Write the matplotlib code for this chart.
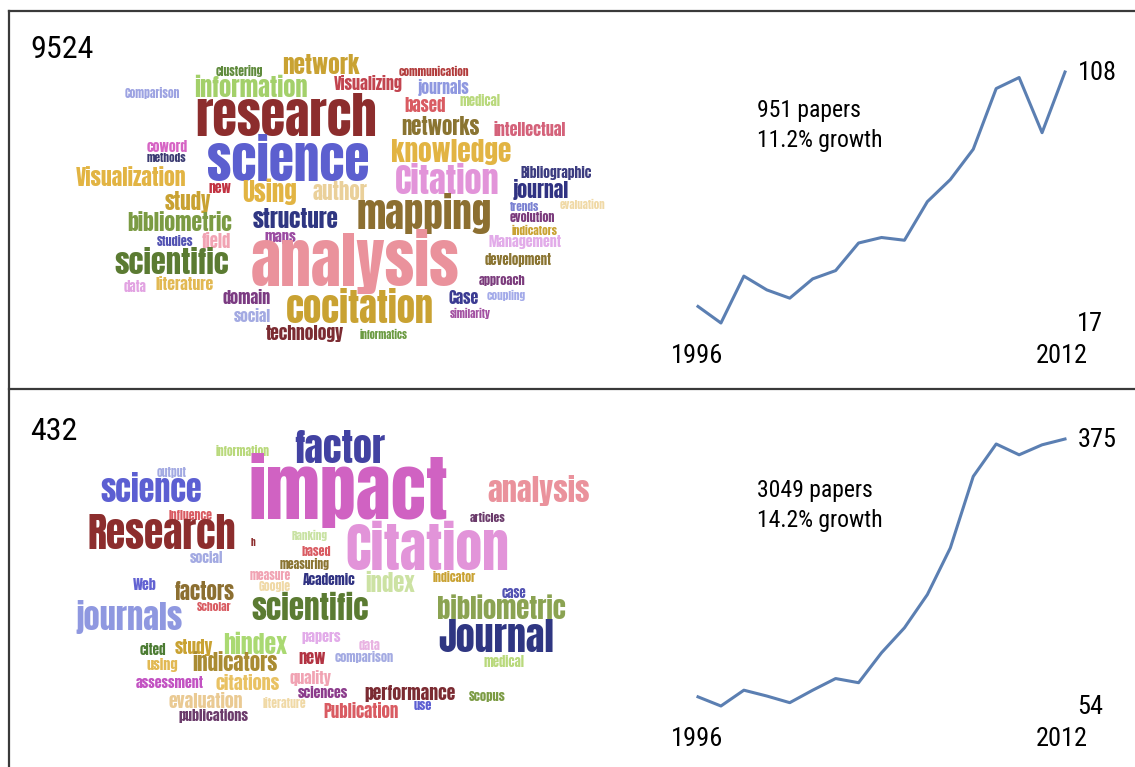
import matplotlib
matplotlib.use("Agg")
import matplotlib.pyplot as plt
from matplotlib import font_manager

# ---- data ----
years = list(range(1996, 2013))
papers_top = [23, 17, 34, 29, 26, 33, 36, 46, 48, 47, 61, 69, 80, 102, 106, 86, 108]
papers_bot = [65, 54, 73, 66, 58, 73, 87, 82, 118, 148, 188, 244, 330, 369, 356, 368, 375]
count_top = "9524"
count_bot = "432"
note_top = ["951 papers", "11.2% growth"]
note_bot = ["3049 papers", "14.2% growth"]

words_top = ["clustering", "network", "Comparison", "information", "Visualizing",
             "communication", "journals", "based", "medical", "research", "networks",
             "intellectual", "coword", "methods", "science", "knowledge",
             "Visualization", "new", "Using", "author", "Citation", "Bibliographic",
             "journal", "study", "mapping", "evaluation", "trends", "bibliometric",
             "structure", "evolution", "indicators", "maps", "Studies", "field",
             "Management", "scientific", "analysis", "development", "data",
             "literature", "approach", "domain", "cocitation", "Case", "coupling",
             "social", "similarity", "technology", "informatics"]

words_bot = ["information", "factor", "output", "impact", "analysis", "science",
             "Influence", "articles", "Research", "h", "Ranking", "Citation", "based",
             "social", "measuring", "measure", "Academic", "Google", "index",
             "indicator", "Web", "factors", "case", "Scholar", "scientific",
             "journals", "bibliometric", "Journal", "papers", "data", "hindex",
             "study", "cited", "comparison", "medical", "new", "using", "indicators",
             "quality", "assessment", "citations", "sciences", "performance",
             "Scopus", "evaluation", "literature", "Publication", "use",
             "publications"]

# ---- layout of the clouds: (x_left, x_right, y_center, colour) in pixels ----
layout_top = [
    (213, 265, 71, "#5f8a3c"), (278, 363, 66, "#c9a232"), (122, 183, 93, "#9da3e2"),
    (188, 313, 88, "#a3d06a"), (330, 407, 84, "#c2444f"), (395, 473, 72, "#b23c3c"),
    (415, 472, 88, "#8f98e0"), (403, 448, 105, "#d95b62"), (458, 503, 101, "#b9d97c"),
    (187, 386, 118, "#8c2d2d"), (397, 483, 127, "#8a7431"), (490, 570, 130, "#d4627a"),
    (145, 190, 147, "#d664c4"), (145, 188, 158, "#3b3b72"), (199, 378, 162, "#5c5fcf"),
    (385, 517, 152, "#e2b443"), (70, 192, 178, "#e2b443"), (207, 232, 188, "#c23342"),
    (240, 300, 192, "#e2b443"), (310, 370, 192, "#ead09a"), (389, 505, 182, "#e294d9"),
    (517, 595, 173, "#3c3c80"), (510, 572, 190, "#303282"), (162, 213, 202, "#c9a232"),
    (350, 498, 214, "#8c6f31"), (557, 607, 205, "#f0d9a6"), (508, 540, 207, "#7b82d2"),
    (122, 237, 223, "#7b9b43"), (248, 343, 219, "#2f3682"), (507, 557, 218, "#7b3b7c"),
    (510, 560, 231, "#c9a232"), (263, 298, 237, "#9b4ba2"), (155, 195, 242, "#5252b2"),
    (200, 232, 241, "#f1a3b3"), (485, 565, 242, "#e2abe9"), (108, 235, 263, "#5b7b32"),
    (240, 470, 261, "#ea929c"), (482, 555, 260, "#8a7431"), (123, 148, 287, "#e2a3e2"),
    (153, 217, 285, "#e2b953"), (477, 528, 280, "#7b3b7c"), (220, 273, 298, "#7b3b82"),
    (278, 442, 309, "#c9a232"), (447, 480, 298, "#3b3b92"), (485, 528, 295, "#a3aae9"),
    (232, 273, 317, "#a3aae2"), (448, 493, 313, "#a352a2"), (262, 348, 334, "#7b2b32"),
    (357, 410, 335, "#6b9b42"),
]

layout_bot = [
    (213, 273, 451, "#b9d97c"), (290, 390, 449, "#4242a2"), (155, 188, 473, "#a3aae2"),
    (238, 458, 491, "#d062c2"), (483, 595, 490, "#ea929c"), (95, 207, 490, "#5c5fd2"),
    (167, 215, 515, "#d95b62"), (468, 507, 518, "#6b3b6b"), (80, 243, 534, "#8c2d2d"),
    (250, 255, 542, "#8c2d2d"), (290, 330, 535, "#c9e2a3"), (337, 518, 550, "#e294d9"),
    (300, 332, 552, "#d95b62"), (188, 225, 558, "#a3aae2"), (277, 332, 564, "#8a7431"),
    (248, 293, 575, "#f1a3b3"), (300, 358, 580, "#303282"), (257, 292, 586, "#f0d9a6"),
    (363, 418, 583, "#cce2a3"), (430, 478, 578, "#c9a232"), (132, 158, 585, "#6262d2"),
    (172, 238, 592, "#8c6f31"), (500, 527, 593, "#5252b2"), (195, 233, 607, "#d95b62"),
    (245, 375, 608, "#5b7b32"), (70, 188, 617, "#8f98e0"), (430, 573, 609, "#8ba352"),
    (432, 560, 638, "#2f3682"), (300, 343, 637, "#e2abe9"), (358, 382, 645, "#e9b3e2"),
    (220, 290, 645, "#aad972"), (173, 215, 647, "#c9a232"), (138, 167, 650, "#4b7b32"),
    (332, 397, 657, "#a3aae2"), (482, 527, 662, "#b9d97c"), (297, 327, 658, "#b23342"),
    (145, 180, 665, "#e2b953"), (188, 282, 663, "#a98b32"), (287, 333, 678, "#f1a3b3"),
    (132, 207, 683, "#c252c2"), (212, 283, 683, "#e9c263"), (295, 350, 693, "#8b3b8b"),
    (360, 460, 694, "#7b2b32"), (467, 507, 696, "#7b9b43"), (165, 247, 702, "#eaca93"),
    (260, 308, 703, "#f0d9a6"), (320, 403, 712, "#d95b62"), (413, 433, 706, "#5c5fd2"),
    (175, 252, 716, "#6b3b6b"),
]

# ---- fonts ----
installed = {f.name for f in font_manager.fontManager.ttflist}


def pick(cands, default):
    for c in cands:
        if c in installed:
            return c
    return default


cloud_font = pick(["Anton", "Oswald"], "DejaVu Sans")
cloud_weight = "normal" if cloud_font != "DejaVu Sans" else "bold"
# Anton runs a little taller than the cloud's original face
shrink = 0.91 if cloud_font != "DejaVu Sans" else 1.0
num_font = [pick(["Liberation Sans Narrow", "Arial Narrow", "Roboto Condensed",
                  "Archivo Narrow", "PT Sans Narrow", "Arimo"], "Liberation Sans"),
            "DejaVu Sans"]

W, H = 1135, 767
fig = plt.figure(figsize=(W / 100, H / 100), dpi=100)
bg = fig.add_axes([0, 0, 1, 1])
bg.set_xlim(0, W)
bg.set_ylim(H, 0)
bg.axis("off")

# frame
border = "#3a3a3a"
bg.plot([9, 9], [11, H], color=border, lw=1.6)
bg.plot([9, W], [11, 11], color=border, lw=1.6)
bg.plot([9, W], [389, 389], color=border, lw=1.6)

renderer = fig.canvas.get_renderer()


def draw_cloud(words, layout):
    for w, (x0, x1, yc, col) in zip(words, layout):
        t = bg.text((x0 + x1) / 2, yc, w, fontsize=10, family=cloud_font,
                    fontweight=cloud_weight, color=col, ha="center", va="center")
        ext = t.get_window_extent(renderer)
        t.set_fontsize(10 * shrink * (x1 - x0) / ext.width)


draw_cloud(words_top, layout_top)
draw_cloud(words_bot, layout_bot)

# counts
bg.text(30, 50, count_top, fontsize=23, family=num_font, ha="left", va="center")
bg.text(30, 432, count_bot, fontsize=23, family=num_font, ha="left", va="center")


def draw_trend(vals, y_top, y_bot, note, note_y):
    lo, hi = min(vals), max(vals)
    x0, x1 = 698, 1065
    ax = fig.add_axes([x0 / W, 1 - y_bot / H, (x1 - x0) / W, (y_bot - y_top) / H])
    ax.plot(years, vals, color="#5b7fb2", lw=2.2, solid_joinstyle="round", clip_on=False)
    ax.set_xlim(years[0], years[-1])
    ax.set_ylim(lo, hi)
    ax.axis("off")
    bg.text(x0 - 1, y_bot + 33, str(years[0]), fontsize=19, family=num_font, ha="center", va="center")
    bg.text(x1 - 3, y_bot + 33, str(years[-1]), fontsize=19, family=num_font, ha="center", va="center")
    bg.text(1090, y_bot + 1, str(lo), fontsize=19, family=num_font, ha="center", va="center")
    bg.text(1078, y_top + 1, str(hi), fontsize=19, family=num_font, ha="left", va="center")
    bg.text(757, note_y, note[0], fontsize=17, family=num_font, ha="left", va="center")
    bg.text(757, note_y + 31, note[1], fontsize=17, family=num_font, ha="left", va="center")


draw_trend(papers_top, 72, 323, note_top, 110)
draw_trend(papers_bot, 439, 706, note_bot, 490)

fig.savefig("out.png", dpi=100)
